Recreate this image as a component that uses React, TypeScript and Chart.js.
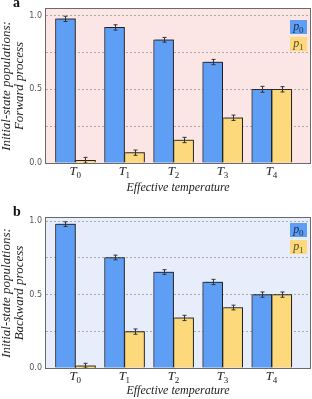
import React, { useEffect, useRef } from "react";
import { Chart, registerables } from "chart.js";

Chart.register(...registerables);

// ---------- data ----------
const categories = ["T₀", "T₁", "T₂", "T₃", "T₄"];
const seriesLabels = ["p₀", "p₁"];
const yTickValues = [0, 0.25, 0.5, 0.75, 1.0];
const yLabeledTicks = [0, 0.5, 1.0];

const forwardP0 = [0.978, 0.92, 0.836, 0.685, 0.5];
const forwardP0Err = [0.018, 0.018, 0.016, 0.018, 0.02];
const forwardP1 = [0.018, 0.07, 0.156, 0.307, 0.5];
const forwardP1Err = [0.02, 0.018, 0.018, 0.018, 0.018];

const backwardP0 = [0.98, 0.753, 0.654, 0.586, 0.5];
const backwardP0Err = [0.016, 0.016, 0.016, 0.018, 0.018];
const backwardP1 = [0.014, 0.248, 0.341, 0.412, 0.5];
const backwardP1Err = [0.018, 0.018, 0.018, 0.016, 0.018];

const BLUE = "#5e9ef5";
const YELLOW = "#fdd97b";
const SERIF = "'Liberation Serif', 'DejaVu Serif', serif";
const SANS = "'DejaVu Sans', sans-serif";

const SUB = "₀₁₂₃₄₅₆₇₈₉";

// draw "X₀" as italic base + upright smaller subscript digit
function drawSubLabel(ctx: any, text: string, cx: number, baseY: number, size: number, color: string) {
  let base = "";
  let sub = "";
  for (const ch of text) {
    const k = SUB.indexOf(ch);
    if (k >= 0) sub += String(k);
    else base += ch;
  }
  const subSize = Math.round(size * 0.72);
  ctx.save();
  ctx.fillStyle = color;
  ctx.textBaseline = "alphabetic";
  ctx.textAlign = "left";
  ctx.font = `italic ${size}px ${SERIF}`;
  const wb = ctx.measureText(base).width;
  ctx.font = `${subSize}px ${SERIF}`;
  const ws = ctx.measureText(sub).width;
  const x0 = cx - (wb + ws) / 2;
  ctx.font = `italic ${size}px ${SERIF}`;
  ctx.fillText(base, x0, baseY);
  ctx.font = `${subSize}px ${SERIF}`;
  ctx.fillText(sub, x0 + wb - size * 0.02, baseY + size * 0.22);
  ctx.restore();
}

type PanelProps = {
  letter: string;
  yTitle: string[];
  p0: number[];
  p0e: number[];
  p1: number[];
  p1e: number[];
  bg: string;
  yMax: number;
  height: number;
  top: number;
  xHeight: number;
  titleBottom: number;
  legendTop: number;
  letterY: number;
};

function Panel(props: PanelProps) {
  const ref = useRef<HTMLCanvasElement | null>(null);
  useEffect(() => {
    const canvas = ref.current;
    if (!canvas) return;
    const errs = [props.p0e, props.p1e];
    const colors = [BLUE, YELLOW];
    const textColors = ["#1c2b4a", "#5a4a1e"];

    const plugin = {
      id: "custom",
      beforeDraw(chart: any) {
        const { ctx, chartArea: a } = chart;
        ctx.save();
        ctx.fillStyle = props.bg;
        ctx.fillRect(a.left, a.top, a.right - a.left, a.bottom - a.top);
        ctx.restore();
      },
      beforeDatasetsDraw(chart: any) {
        const ctx = chart.ctx;
        ctx.save();
        ctx.shadowColor = "rgba(0,0,0,0.35)";
        ctx.shadowOffsetX = 1.5;
        ctx.shadowOffsetY = -1;
        ctx.shadowBlur = 1;
      },
      afterDatasetsDraw(chart: any) {
        const ctx = chart.ctx;
        ctx.restore();
        const y = chart.scales.y;
        const xs = chart.scales.x;
        const a = chart.chartArea;
        // error bars
        ctx.save();
        ctx.strokeStyle = "#333";
        ctx.lineWidth = 1;
        chart.data.datasets.forEach((ds: any, di: number) => {
          const meta = chart.getDatasetMeta(di);
          meta.data.forEach((el: any, i: number) => {
            const v = ds.data[i].y;
            const e = errs[di][i];
            const x = Math.round(el.x) + 0.5;
            const y1 = y.getPixelForValue(v + e);
            const y2 = y.getPixelForValue(Math.max(0, v - e));
            ctx.beginPath();
            ctx.moveTo(x, y1);
            ctx.lineTo(x, y2);
            ctx.moveTo(x - 2, y1);
            ctx.lineTo(x + 2, y1);
            ctx.moveTo(x - 2, y2);
            ctx.lineTo(x + 2, y2);
            ctx.stroke();
          });
        });
        // frame
        ctx.strokeStyle = "#6a6a6a";
        ctx.lineWidth = 1;
        ctx.strokeRect(
          Math.round(a.left) - 0.5,
          Math.round(a.top) - 0.5,
          Math.round(a.right - a.left) + 1,
          Math.round(a.bottom - a.top) + 1
        );
        // category labels
        categories.forEach((c, i) => {
          drawSubLabel(ctx, c, xs.getPixelForValue(i), a.bottom + 12, 13, "#222");
        });
        // legend
        const bw = 17;
        const bh = 14;
        const bx = a.right - 3 - bw;
        seriesLabels.forEach((lab, i) => {
          const by = props.legendTop + i * 17;
          ctx.fillStyle = colors[i];
          ctx.fillRect(bx, by, bw, bh);
          drawSubLabel(ctx, lab, bx + bw / 2, by + bh / 2 + 3, 12, textColors[i]);
        });
        // panel letter
        ctx.fillStyle = "#111";
        ctx.font = `bold 14px ${SERIF}`;
        ctx.textAlign = "left";
        ctx.textBaseline = "alphabetic";
        ctx.fillText(props.letter, 13, props.letterY);
        ctx.restore();
      },
    };

    const chart = new Chart(canvas, {
      type: "bar",
      data: {
        datasets: [
          {
            label: seriesLabels[0],
            data: props.p0.map((v, i) => ({ x: i, y: v })),
            backgroundColor: BLUE,
            borderColor: "#2e2e2e",
            borderWidth: 1,
            barThickness: 20,
          },
          {
            label: seriesLabels[1],
            data: props.p1.map((v, i) => ({ x: i, y: v })),
            backgroundColor: YELLOW,
            borderColor: "#2e2e2e",
            borderWidth: 1,
            barThickness: 20,
          },
        ],
      },
      options: {
        animation: false,
        responsive: false,
        devicePixelRatio: 1,
        layout: { padding: { left: 0, right: 2, top: props.top, bottom: 0 } },
        plugins: { legend: { display: false }, tooltip: { enabled: false } },
        scales: {
          x: {
            type: "linear",
            min: -0.6,
            max: 4.78,
            offset: false,
            grid: { display: false, drawTicks: false },
            border: { display: false },
            afterBuildTicks: (s: any) => {
              s.ticks = categories.map((_, i) => ({ value: i }));
            },
            afterFit: (s: any) => {
              s.height = props.xHeight;
            },
            ticks: {
              display: false,
              autoSkip: false,
              maxRotation: 0,
            },
            title: {
              display: true,
              text: "Effective temperature",
              color: "#222",
              font: { family: SERIF, style: "italic", size: 12, lineHeight: 1.1 },
              padding: { top: 0, bottom: props.titleBottom },
            },
          },
          y: {
            type: "linear",
            min: 0,
            max: props.yMax,
            grid: {
              drawTicks: false,
              lineWidth: 0.8,
              color: (c: any) =>
                c.tick && c.tick.value === 0 ? "rgba(0,0,0,0)" : "#9a9a9a",
            },
            border: { display: false, dash: [2, 2] },
            afterBuildTicks: (s: any) => {
              s.ticks = yTickValues.map((v) => ({ value: v }));
            },
            afterFit: (s: any) => {
              s.width = 46;
            },
            ticks: {
              padding: 4,
              color: "#555",
              font: { family: SANS, size: 8 },
              callback: (v: any) =>
                yLabeledTicks.includes(v) ? Number(v).toFixed(1) : "",
            },
            title: {
              display: true,
              text: props.yTitle,
              color: "#222",
              font: { family: SERIF, style: "italic", size: 13, lineHeight: 1.0 },
              padding: { top: 0, bottom: 0 },
            },
          },
        },
      },
      plugins: [plugin],
    } as any);
    return () => chart.destroy();
  }, []);
  return (
    <canvas
      ref={ref}
      width={312}
      height={props.height}
      style={{ display: "block", width: 312, height: props.height }}
    />
  );
}

export default function App() {
  return (
    <div style={{ position: "absolute", left: 0, top: 0, width: 312, height: 399, background: "#fff" }}>
      <Panel
        letter="a"
        yTitle={["Initial-state populations:", "Forward process"]}
        p0={forwardP0}
        p0e={forwardP0Err}
        p1={forwardP1}
        p1e={forwardP1Err}
        bg="#fbe5e5"
        yMax={1.045}
        height={198}
        top={9}
        xHeight={35}
        titleBottom={3.4}
        legendTop={20}
        letterY={7}
      />
      <Panel
        letter="b"
        yTitle={["Initial-state populations:", "Backward process"]}
        p0={backwardP0}
        p0e={backwardP0Err}
        p1={backwardP1}
        p1e={backwardP1Err}
        bg="#e7edfb"
        yMax={1.022}
        height={201}
        top={20}
        xHeight={31}
        titleBottom={1.4}
        legendTop={25}
        letterY={18}
      />
    </div>
  );
}
